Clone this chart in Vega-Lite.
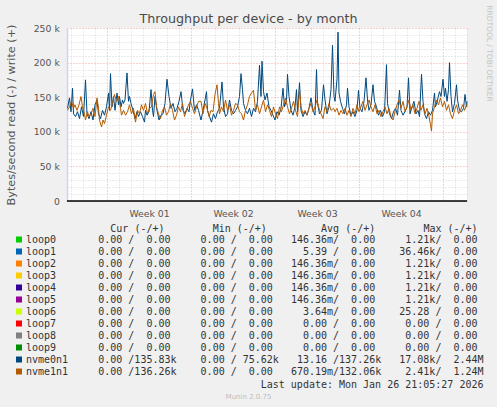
{
  "$schema": "https://vega.github.io/schema/vega-lite/v6.json",
  "autosize": {"type": "none"},
  "width": 400,
  "height": 173,
  "padding": {"left": 67, "top": 28, "right": 30, "bottom": 206},
  "background": "#f0f0f0",
  "config": {
    "view": {"fill": "#ffffff", "stroke": null},
    "font": "DejaVu Sans",
    "axis": {"labelFont": "DejaVu Sans", "titleFont": "DejaVu Sans", "titleFontWeight": "normal"}
  },
  "datasets": {
    "devices": [
      {"device": "loop0", "cur": "  0.00 /  0.00 ", "min": "  0.00 /  0.00 ", "avg": "146.36m/  0.00 ", "max": "  1.21k/  0.00 "},
      {"device": "loop1", "cur": "  0.00 /  0.00 ", "min": "  0.00 /  0.00 ", "avg": "  5.39 /  0.00 ", "max": " 36.46k/  0.00 "},
      {"device": "loop2", "cur": "  0.00 /  0.00 ", "min": "  0.00 /  0.00 ", "avg": "146.36m/  0.00 ", "max": "  1.21k/  0.00 "},
      {"device": "loop3", "cur": "  0.00 /  0.00 ", "min": "  0.00 /  0.00 ", "avg": "146.36m/  0.00 ", "max": "  1.21k/  0.00 "},
      {"device": "loop4", "cur": "  0.00 /  0.00 ", "min": "  0.00 /  0.00 ", "avg": "146.36m/  0.00 ", "max": "  1.21k/  0.00 "},
      {"device": "loop5", "cur": "  0.00 /  0.00 ", "min": "  0.00 /  0.00 ", "avg": "146.36m/  0.00 ", "max": "  1.21k/  0.00 "},
      {"device": "loop6", "cur": "  0.00 /  0.00 ", "min": "  0.00 /  0.00 ", "avg": "  3.64m/  0.00 ", "max": " 25.28 /  0.00 "},
      {"device": "loop7", "cur": "  0.00 /  0.00 ", "min": "  0.00 /  0.00 ", "avg": "  0.00 /  0.00 ", "max": "  0.00 /  0.00 "},
      {"device": "loop8", "cur": "  0.00 /  0.00 ", "min": "  0.00 /  0.00 ", "avg": "  0.00 /  0.00 ", "max": "  0.00 /  0.00 "},
      {"device": "loop9", "cur": "  0.00 /  0.00 ", "min": "  0.00 /  0.00 ", "avg": "  0.00 /  0.00 ", "max": "  0.00 /  0.00 "},
      {"device": "nvme0n1", "cur": "  0.00 /135.83k", "min": "  0.00 / 75.62k", "avg": " 13.16 /137.26k", "max": " 17.08k/  2.44M"},
      {"device": "nvme1n1", "cur": "  0.00 /136.26k", "min": "  0.00 /  0.00 ", "avg": "670.19m/132.06k", "max": "  2.41k/  1.24M"}
    ],
    "series": [
      {"device":"nvme0n1","hour":1,"value":134000},{"device":"nvme0n1","hour":5,"value":149000},{"device":"nvme0n1","hour":8,"value":129000},{"device":"nvme0n1","hour":11,"value":163000},{"device":"nvme0n1","hour":13,"value":126000},{"device":"nvme0n1","hour":17,"value":122000},{"device":"nvme0n1","hour":21,"value":129000},{"device":"nvme0n1","hour":25,"value":119000},{"device":"nvme0n1","hour":29,"value":136000},{"device":"nvme0n1","hour":33,"value":122000},
      {"device":"nvme0n1","hour":37,"value":175000},{"device":"nvme0n1","hour":40,"value":126000},{"device":"nvme0n1","hour":44,"value":119000},{"device":"nvme0n1","hour":48,"value":129000},{"device":"nvme0n1","hour":52,"value":117000},{"device":"nvme0n1","hour":56,"value":139000},{"device":"nvme0n1","hour":60,"value":146000},{"device":"nvme0n1","hour":63,"value":126000},{"device":"nvme0n1","hour":67,"value":119000},{"device":"nvme0n1","hour":71,"value":131000},
      {"device":"nvme0n1","hour":75,"value":124000},{"device":"nvme0n1","hour":79,"value":136000},{"device":"nvme0n1","hour":83,"value":156000},{"device":"nvme0n1","hour":85,"value":131000},{"device":"nvme0n1","hour":87,"value":184000},{"device":"nvme0n1","hour":90,"value":136000},{"device":"nvme0n1","hour":93,"value":151000},{"device":"nvme0n1","hour":96,"value":131000},{"device":"nvme0n1","hour":100,"value":156000},{"device":"nvme0n1","hour":103,"value":139000},
      {"device":"nvme0n1","hour":105,"value":151000},{"device":"nvme0n1","hour":108,"value":136000},{"device":"nvme0n1","hour":111,"value":146000},{"device":"nvme0n1","hour":113,"value":141000},{"device":"nvme0n1","hour":116,"value":146000},{"device":"nvme0n1","hour":120,"value":185000},{"device":"nvme0n1","hour":123,"value":144000},{"device":"nvme0n1","hour":125,"value":151000},{"device":"nvme0n1","hour":128,"value":141000},{"device":"nvme0n1","hour":132,"value":131000},
      {"device":"nvme0n1","hour":136,"value":119000},{"device":"nvme0n1","hour":140,"value":129000},{"device":"nvme0n1","hour":143,"value":122000},{"device":"nvme0n1","hour":147,"value":129000},{"device":"nvme0n1","hour":151,"value":122000},{"device":"nvme0n1","hour":155,"value":114000},{"device":"nvme0n1","hour":157,"value":131000},{"device":"nvme0n1","hour":160,"value":124000},{"device":"nvme0n1","hour":164,"value":129000},{"device":"nvme0n1","hour":168,"value":161000},
      {"device":"nvme0n1","hour":171,"value":131000},{"device":"nvme0n1","hour":173,"value":122000},{"device":"nvme0n1","hour":176,"value":151000},{"device":"nvme0n1","hour":180,"value":131000},{"device":"nvme0n1","hour":184,"value":117000},{"device":"nvme0n1","hour":188,"value":124000},{"device":"nvme0n1","hour":192,"value":126000},{"device":"nvme0n1","hour":196,"value":141000},{"device":"nvme0n1","hour":200,"value":176000},{"device":"nvme0n1","hour":204,"value":151000},
      {"device":"nvme0n1","hour":208,"value":134000},{"device":"nvme0n1","hour":212,"value":141000},{"device":"nvme0n1","hour":216,"value":129000},{"device":"nvme0n1","hour":220,"value":134000},{"device":"nvme0n1","hour":224,"value":144000},{"device":"nvme0n1","hour":228,"value":158000},{"device":"nvme0n1","hour":232,"value":131000},{"device":"nvme0n1","hour":236,"value":126000},{"device":"nvme0n1","hour":240,"value":134000},{"device":"nvme0n1","hour":244,"value":129000},
      {"device":"nvme0n1","hour":247,"value":146000},{"device":"nvme0n1","hour":251,"value":162000},{"device":"nvme0n1","hour":255,"value":131000},{"device":"nvme0n1","hour":259,"value":139000},{"device":"nvme0n1","hour":263,"value":131000},{"device":"nvme0n1","hour":268,"value":117000},{"device":"nvme0n1","hour":272,"value":131000},{"device":"nvme0n1","hour":276,"value":146000},{"device":"nvme0n1","hour":279,"value":158000},{"device":"nvme0n1","hour":281,"value":131000},
      {"device":"nvme0n1","hour":285,"value":122000},{"device":"nvme0n1","hour":289,"value":114000},{"device":"nvme0n1","hour":293,"value":126000},{"device":"nvme0n1","hour":297,"value":119000},{"device":"nvme0n1","hour":301,"value":129000},{"device":"nvme0n1","hour":305,"value":134000},{"device":"nvme0n1","hour":310,"value":172000},{"device":"nvme0n1","hour":313,"value":136000},{"device":"nvme0n1","hour":317,"value":122000},{"device":"nvme0n1","hour":321,"value":126000},
      {"device":"nvme0n1","hour":325,"value":146000},{"device":"nvme0n1","hour":329,"value":131000},{"device":"nvme0n1","hour":333,"value":126000},{"device":"nvme0n1","hour":337,"value":131000},{"device":"nvme0n1","hour":341,"value":136000},{"device":"nvme0n1","hour":345,"value":151000},{"device":"nvme0n1","hour":348,"value":184000},{"device":"nvme0n1","hour":351,"value":161000},{"device":"nvme0n1","hour":353,"value":141000},{"device":"nvme0n1","hour":357,"value":131000},
      {"device":"nvme0n1","hour":361,"value":126000},{"device":"nvme0n1","hour":365,"value":134000},{"device":"nvme0n1","hour":369,"value":122000},{"device":"nvme0n1","hour":373,"value":134000},{"device":"nvme0n1","hour":377,"value":129000},{"device":"nvme0n1","hour":381,"value":144000},{"device":"nvme0n1","hour":385,"value":196000},{"device":"nvme0n1","hour":388,"value":151000},{"device":"nvme0n1","hour":390,"value":202000},{"device":"nvme0n1","hour":393,"value":158000},
      {"device":"nvme0n1","hour":396,"value":146000},{"device":"nvme0n1","hour":400,"value":156000},{"device":"nvme0n1","hour":404,"value":136000},{"device":"nvme0n1","hour":408,"value":131000},{"device":"nvme0n1","hour":412,"value":124000},{"device":"nvme0n1","hour":416,"value":117000},{"device":"nvme0n1","hour":420,"value":129000},{"device":"nvme0n1","hour":424,"value":124000},{"device":"nvme0n1","hour":428,"value":134000},{"device":"nvme0n1","hour":432,"value":163000},
      {"device":"nvme0n1","hour":435,"value":136000},{"device":"nvme0n1","hour":439,"value":146000},{"device":"nvme0n1","hour":441,"value":183000},{"device":"nvme0n1","hour":444,"value":151000},{"device":"nvme0n1","hour":448,"value":131000},{"device":"nvme0n1","hour":452,"value":124000},{"device":"nvme0n1","hour":456,"value":136000},{"device":"nvme0n1","hour":459,"value":161000},{"device":"nvme0n1","hour":461,"value":129000},{"device":"nvme0n1","hour":465,"value":171000},
      {"device":"nvme0n1","hour":468,"value":131000},{"device":"nvme0n1","hour":472,"value":122000},{"device":"nvme0n1","hour":476,"value":129000},{"device":"nvme0n1","hour":480,"value":124000},{"device":"nvme0n1","hour":484,"value":134000},{"device":"nvme0n1","hour":488,"value":149000},{"device":"nvme0n1","hour":492,"value":131000},{"device":"nvme0n1","hour":496,"value":124000},{"device":"nvme0n1","hour":499,"value":190000},{"device":"nvme0n1","hour":501,"value":141000},
      {"device":"nvme0n1","hour":505,"value":126000},{"device":"nvme0n1","hour":509,"value":131000},{"device":"nvme0n1","hour":513,"value":168000},{"device":"nvme0n1","hour":516,"value":146000},{"device":"nvme0n1","hour":520,"value":126000},{"device":"nvme0n1","hour":524,"value":136000},{"device":"nvme0n1","hour":528,"value":161000},{"device":"nvme0n1","hour":531,"value":225000},{"device":"nvme0n1","hour":534,"value":151000},{"device":"nvme0n1","hour":536,"value":144000},
      {"device":"nvme0n1","hour":540,"value":176000},{"device":"nvme0n1","hour":542,"value":244000},{"device":"nvme0n1","hour":544,"value":156000},{"device":"nvme0n1","hour":547,"value":144000},{"device":"nvme0n1","hour":551,"value":134000},{"device":"nvme0n1","hour":555,"value":126000},{"device":"nvme0n1","hour":559,"value":139000},{"device":"nvme0n1","hour":561,"value":163000},{"device":"nvme0n1","hour":564,"value":136000},{"device":"nvme0n1","hour":568,"value":124000},
      {"device":"nvme0n1","hour":572,"value":129000},{"device":"nvme0n1","hour":576,"value":122000},{"device":"nvme0n1","hour":580,"value":131000},{"device":"nvme0n1","hour":583,"value":160000},{"device":"nvme0n1","hour":586,"value":134000},{"device":"nvme0n1","hour":590,"value":129000},{"device":"nvme0n1","hour":594,"value":144000},{"device":"nvme0n1","hour":598,"value":178000},{"device":"nvme0n1","hour":601,"value":146000},{"device":"nvme0n1","hour":604,"value":131000},
      {"device":"nvme0n1","hour":608,"value":139000},{"device":"nvme0n1","hour":612,"value":168000},{"device":"nvme0n1","hour":615,"value":144000},{"device":"nvme0n1","hour":619,"value":136000},{"device":"nvme0n1","hour":623,"value":124000},{"device":"nvme0n1","hour":627,"value":131000},{"device":"nvme0n1","hour":631,"value":122000},{"device":"nvme0n1","hour":635,"value":129000},{"device":"nvme0n1","hour":639,"value":197000},{"device":"nvme0n1","hour":641,"value":141000},
      {"device":"nvme0n1","hour":645,"value":126000},{"device":"nvme0n1","hour":649,"value":119000},{"device":"nvme0n1","hour":653,"value":129000},{"device":"nvme0n1","hour":657,"value":134000},{"device":"nvme0n1","hour":661,"value":124000},{"device":"nvme0n1","hour":665,"value":160000},{"device":"nvme0n1","hour":668,"value":131000},{"device":"nvme0n1","hour":672,"value":124000},{"device":"nvme0n1","hour":676,"value":129000},{"device":"nvme0n1","hour":680,"value":136000},
      {"device":"nvme0n1","hour":683,"value":178000},{"device":"nvme0n1","hour":686,"value":126000},{"device":"nvme0n1","hour":690,"value":136000},{"device":"nvme0n1","hour":694,"value":144000},{"device":"nvme0n1","hour":698,"value":126000},{"device":"nvme0n1","hour":702,"value":131000},{"device":"nvme0n1","hour":705,"value":122000},{"device":"nvme0n1","hour":709,"value":183000},{"device":"nvme0n1","hour":712,"value":144000},{"device":"nvme0n1","hour":715,"value":126000},
      {"device":"nvme0n1","hour":719,"value":119000},{"device":"nvme0n1","hour":723,"value":129000},{"device":"nvme0n1","hour":727,"value":124000},{"device":"nvme0n1","hour":731,"value":131000},{"device":"nvme0n1","hour":735,"value":156000},{"device":"nvme0n1","hour":737,"value":136000},{"device":"nvme0n1","hour":741,"value":146000},{"device":"nvme0n1","hour":745,"value":158000},{"device":"nvme0n1","hour":748,"value":151000},{"device":"nvme0n1","hour":752,"value":176000},
      {"device":"nvme0n1","hour":755,"value":151000},{"device":"nvme0n1","hour":757,"value":163000},{"device":"nvme0n1","hour":760,"value":144000},{"device":"nvme0n1","hour":763,"value":161000},{"device":"nvme0n1","hour":765,"value":200000},{"device":"nvme0n1","hour":768,"value":151000},{"device":"nvme0n1","hour":771,"value":129000},{"device":"nvme0n1","hour":775,"value":141000},{"device":"nvme0n1","hour":779,"value":168000},{"device":"nvme0n1","hour":781,"value":146000},
      {"device":"nvme0n1","hour":785,"value":131000},{"device":"nvme0n1","hour":789,"value":129000},{"device":"nvme0n1","hour":793,"value":134000},{"device":"nvme0n1","hour":796,"value":154000},{"device":"nvme0n1","hour":799,"value":136000},{"device":"nvme0n1","hour":800,"value":144000},
      {"device":"nvme1n1","hour":1,"value":131000},{"device":"nvme1n1","hour":5,"value":136000},{"device":"nvme1n1","hour":9,"value":144000},{"device":"nvme1n1","hour":13,"value":134000},{"device":"nvme1n1","hour":16,"value":139000},{"device":"nvme1n1","hour":20,"value":131000},{"device":"nvme1n1","hour":24,"value":139000},{"device":"nvme1n1","hour":28,"value":151000},{"device":"nvme1n1","hour":31,"value":136000},{"device":"nvme1n1","hour":35,"value":126000},
      {"device":"nvme1n1","hour":37,"value":117000},{"device":"nvme1n1","hour":41,"value":129000},{"device":"nvme1n1","hour":44,"value":122000},{"device":"nvme1n1","hour":48,"value":126000},{"device":"nvme1n1","hour":52,"value":134000},{"device":"nvme1n1","hour":56,"value":122000},{"device":"nvme1n1","hour":60,"value":149000},{"device":"nvme1n1","hour":63,"value":134000},{"device":"nvme1n1","hour":65,"value":117000},{"device":"nvme1n1","hour":69,"value":107000},
      {"device":"nvme1n1","hour":72,"value":117000},{"device":"nvme1n1","hour":75,"value":112000},{"device":"nvme1n1","hour":79,"value":124000},{"device":"nvme1n1","hour":83,"value":136000},{"device":"nvme1n1","hour":87,"value":131000},{"device":"nvme1n1","hour":91,"value":141000},{"device":"nvme1n1","hour":95,"value":154000},{"device":"nvme1n1","hour":99,"value":144000},{"device":"nvme1n1","hour":103,"value":151000},{"device":"nvme1n1","hour":107,"value":134000},
      {"device":"nvme1n1","hour":109,"value":124000},{"device":"nvme1n1","hour":113,"value":131000},{"device":"nvme1n1","hour":117,"value":124000},{"device":"nvme1n1","hour":121,"value":129000},{"device":"nvme1n1","hour":125,"value":139000},{"device":"nvme1n1","hour":129,"value":126000},{"device":"nvme1n1","hour":133,"value":134000},{"device":"nvme1n1","hour":137,"value":114000},{"device":"nvme1n1","hour":141,"value":131000},{"device":"nvme1n1","hour":145,"value":126000},
      {"device":"nvme1n1","hour":149,"value":139000},{"device":"nvme1n1","hour":153,"value":131000},{"device":"nvme1n1","hour":157,"value":141000},{"device":"nvme1n1","hour":161,"value":126000},{"device":"nvme1n1","hour":165,"value":134000},{"device":"nvme1n1","hour":169,"value":136000},{"device":"nvme1n1","hour":173,"value":154000},{"device":"nvme1n1","hour":176,"value":158000},{"device":"nvme1n1","hour":179,"value":136000},{"device":"nvme1n1","hour":183,"value":126000},
      {"device":"nvme1n1","hour":187,"value":119000},{"device":"nvme1n1","hour":191,"value":131000},{"device":"nvme1n1","hour":195,"value":136000},{"device":"nvme1n1","hour":199,"value":124000},{"device":"nvme1n1","hour":203,"value":129000},{"device":"nvme1n1","hour":207,"value":141000},{"device":"nvme1n1","hour":211,"value":131000},{"device":"nvme1n1","hour":215,"value":117000},{"device":"nvme1n1","hour":219,"value":124000},{"device":"nvme1n1","hour":223,"value":136000},
      {"device":"nvme1n1","hour":227,"value":129000},{"device":"nvme1n1","hour":231,"value":141000},{"device":"nvme1n1","hour":235,"value":122000},{"device":"nvme1n1","hour":239,"value":131000},{"device":"nvme1n1","hour":243,"value":139000},{"device":"nvme1n1","hour":247,"value":144000},{"device":"nvme1n1","hour":251,"value":134000},{"device":"nvme1n1","hour":255,"value":126000},{"device":"nvme1n1","hour":259,"value":136000},{"device":"nvme1n1","hour":263,"value":144000},
      {"device":"nvme1n1","hour":268,"value":144000},{"device":"nvme1n1","hour":272,"value":126000},{"device":"nvme1n1","hour":276,"value":141000},{"device":"nvme1n1","hour":280,"value":134000},{"device":"nvme1n1","hour":284,"value":122000},{"device":"nvme1n1","hour":288,"value":131000},{"device":"nvme1n1","hour":292,"value":129000},{"device":"nvme1n1","hour":296,"value":154000},{"device":"nvme1n1","hour":300,"value":168000},{"device":"nvme1n1","hour":303,"value":141000},
      {"device":"nvme1n1","hour":305,"value":126000},{"device":"nvme1n1","hour":309,"value":136000},{"device":"nvme1n1","hour":313,"value":129000},{"device":"nvme1n1","hour":317,"value":146000},{"device":"nvme1n1","hour":321,"value":131000},{"device":"nvme1n1","hour":325,"value":139000},{"device":"nvme1n1","hour":329,"value":124000},{"device":"nvme1n1","hour":333,"value":131000},{"device":"nvme1n1","hour":337,"value":141000},{"device":"nvme1n1","hour":341,"value":139000},
      {"device":"nvme1n1","hour":345,"value":129000},{"device":"nvme1n1","hour":349,"value":126000},{"device":"nvme1n1","hour":353,"value":117000},{"device":"nvme1n1","hour":357,"value":131000},{"device":"nvme1n1","hour":361,"value":139000},{"device":"nvme1n1","hour":365,"value":151000},{"device":"nvme1n1","hour":369,"value":156000},{"device":"nvme1n1","hour":373,"value":160000},{"device":"nvme1n1","hour":377,"value":131000},{"device":"nvme1n1","hour":381,"value":139000},
      {"device":"nvme1n1","hour":385,"value":126000},{"device":"nvme1n1","hour":389,"value":136000},{"device":"nvme1n1","hour":393,"value":146000},{"device":"nvme1n1","hour":397,"value":129000},{"device":"nvme1n1","hour":401,"value":139000},{"device":"nvme1n1","hour":405,"value":131000},{"device":"nvme1n1","hour":409,"value":122000},{"device":"nvme1n1","hour":413,"value":136000},{"device":"nvme1n1","hour":417,"value":126000},{"device":"nvme1n1","hour":421,"value":119000},
      {"device":"nvme1n1","hour":425,"value":136000},{"device":"nvme1n1","hour":429,"value":129000},{"device":"nvme1n1","hour":433,"value":139000},{"device":"nvme1n1","hour":437,"value":149000},{"device":"nvme1n1","hour":441,"value":136000},{"device":"nvme1n1","hour":445,"value":126000},{"device":"nvme1n1","hour":449,"value":134000},{"device":"nvme1n1","hour":453,"value":144000},{"device":"nvme1n1","hour":457,"value":131000},{"device":"nvme1n1","hour":461,"value":122000},
      {"device":"nvme1n1","hour":465,"value":161000},{"device":"nvme1n1","hour":468,"value":136000},{"device":"nvme1n1","hour":472,"value":126000},{"device":"nvme1n1","hour":476,"value":131000},{"device":"nvme1n1","hour":480,"value":124000},{"device":"nvme1n1","hour":484,"value":134000},{"device":"nvme1n1","hour":488,"value":141000},{"device":"nvme1n1","hour":492,"value":129000},{"device":"nvme1n1","hour":496,"value":136000},{"device":"nvme1n1","hour":500,"value":146000},
      {"device":"nvme1n1","hour":504,"value":134000},{"device":"nvme1n1","hour":508,"value":126000},{"device":"nvme1n1","hour":512,"value":119000},{"device":"nvme1n1","hour":516,"value":136000},{"device":"nvme1n1","hour":520,"value":129000},{"device":"nvme1n1","hour":524,"value":141000},{"device":"nvme1n1","hour":528,"value":131000},{"device":"nvme1n1","hour":533,"value":134000},{"device":"nvme1n1","hour":536,"value":129000},{"device":"nvme1n1","hour":540,"value":134000},
      {"device":"nvme1n1","hour":544,"value":124000},{"device":"nvme1n1","hour":548,"value":131000},{"device":"nvme1n1","hour":552,"value":126000},{"device":"nvme1n1","hour":556,"value":134000},{"device":"nvme1n1","hour":560,"value":124000},{"device":"nvme1n1","hour":564,"value":131000},{"device":"nvme1n1","hour":568,"value":122000},{"device":"nvme1n1","hour":572,"value":134000},{"device":"nvme1n1","hour":576,"value":126000},{"device":"nvme1n1","hour":580,"value":139000},
      {"device":"nvme1n1","hour":584,"value":129000},{"device":"nvme1n1","hour":588,"value":136000},{"device":"nvme1n1","hour":592,"value":144000},{"device":"nvme1n1","hour":596,"value":131000},{"device":"nvme1n1","hour":600,"value":139000},{"device":"nvme1n1","hour":604,"value":146000},{"device":"nvme1n1","hour":608,"value":136000},{"device":"nvme1n1","hour":612,"value":129000},{"device":"nvme1n1","hour":616,"value":139000},{"device":"nvme1n1","hour":620,"value":126000},
      {"device":"nvme1n1","hour":624,"value":131000},{"device":"nvme1n1","hour":628,"value":122000},{"device":"nvme1n1","hour":632,"value":129000},{"device":"nvme1n1","hour":636,"value":136000},{"device":"nvme1n1","hour":640,"value":126000},{"device":"nvme1n1","hour":644,"value":134000},{"device":"nvme1n1","hour":648,"value":122000},{"device":"nvme1n1","hour":652,"value":117000},{"device":"nvme1n1","hour":656,"value":129000},{"device":"nvme1n1","hour":660,"value":139000},
      {"device":"nvme1n1","hour":664,"value":146000},{"device":"nvme1n1","hour":668,"value":134000},{"device":"nvme1n1","hour":672,"value":144000},{"device":"nvme1n1","hour":676,"value":129000},{"device":"nvme1n1","hour":680,"value":136000},{"device":"nvme1n1","hour":684,"value":146000},{"device":"nvme1n1","hour":688,"value":131000},{"device":"nvme1n1","hour":692,"value":139000},{"device":"nvme1n1","hour":696,"value":126000},{"device":"nvme1n1","hour":700,"value":134000},
      {"device":"nvme1n1","hour":704,"value":144000},{"device":"nvme1n1","hour":708,"value":131000},{"device":"nvme1n1","hour":712,"value":139000},{"device":"nvme1n1","hour":716,"value":126000},{"device":"nvme1n1","hour":720,"value":134000},{"device":"nvme1n1","hour":724,"value":122000},{"device":"nvme1n1","hour":727,"value":110000},{"device":"nvme1n1","hour":729,"value":101000},{"device":"nvme1n1","hour":731,"value":126000},{"device":"nvme1n1","hour":735,"value":136000},
      {"device":"nvme1n1","hour":739,"value":146000},{"device":"nvme1n1","hour":743,"value":139000},{"device":"nvme1n1","hour":747,"value":149000},{"device":"nvme1n1","hour":751,"value":136000},{"device":"nvme1n1","hour":755,"value":144000},{"device":"nvme1n1","hour":759,"value":131000},{"device":"nvme1n1","hour":763,"value":139000},{"device":"nvme1n1","hour":767,"value":126000},{"device":"nvme1n1","hour":771,"value":119000},{"device":"nvme1n1","hour":775,"value":131000},
      {"device":"nvme1n1","hour":779,"value":139000},{"device":"nvme1n1","hour":783,"value":126000},{"device":"nvme1n1","hour":787,"value":131000},{"device":"nvme1n1","hour":791,"value":139000},{"device":"nvme1n1","hour":795,"value":131000},{"device":"nvme1n1","hour":799,"value":139000},{"device":"nvme1n1","hour":800,"value":136000}
    ]
  },
  "layer": [
    {
      "data": {"name": "devices"},
      "transform": [
        {"calculate": "replace(pad(datum.device, 10) + datum.cur + '  ' + datum.min + '  ' + datum.avg + '  ' + datum.max, regexp(' ', 'g'), '\u00a0')", "as": "entry"}
      ],
      "mark": {"type": "square", "size": 0, "opacity": 0},
      "encoding": {
        "x": {
          "datum": 0, "type": "quantitative",
          "scale": {"domain": [0, 800], "nice": false, "zero": false},
          "axis": {
            "orient": "bottom",
            "values": [8, 32, 56, 104, 128, 152, 176, 200, 224, 272, 296, 320, 344, 368, 392, 440, 464, 488, 512, 536, 560, 608, 632, 656, 680, 704, 728, 776, 800],
            "grid": true, "gridColor": "#d4d4d4", "gridDash": [1, 2], "gridWidth": 1,
            "labels": false, "ticks": false, "domain": false,
            "title": "Last update: Mon Jan 26 21:05:27 2026",
            "titleFont": "DejaVu Sans Mono", "titleFontSize": 10, "titleColor": "#333333",
            "titleAlign": "right", "titleBaseline": "alphabetic", "titleX": 416, "titleY": 186
          }
        },
        "y": {
          "datum": 0, "type": "quantitative",
          "scale": {"domain": [0, 250000], "nice": false},
          "axis": {
            "orient": "left",
            "values": [10000, 20000, 30000, 40000, 60000, 70000, 80000, 90000, 110000, 120000, 130000, 140000, 160000, 170000, 180000, 190000, 210000, 220000, 230000, 240000],
            "grid": true, "gridColor": "#d4d4d4", "gridDash": [1, 2], "gridWidth": 1,
            "labels": false, "ticks": false, "domain": false,
            "title": "RRDTOOL / TOBI OETIKER",
            "titleFontSize": 7.5, "titleColor": "#c4c4c4", "titleAngle": 90,
            "titleAlign": "center", "titleBaseline": "middle", "titleX": 421.5, "titleY": 25
          }
        },
        "color": {
          "field": "entry", "type": "nominal", "sort": null,
          "scale": {"range": ["#00cc00", "#0066b3", "#ff8000", "#ffcc00", "#330099", "#990099", "#ccff00", "#ff0000", "#808080", "#008f00", "#00487d", "#b35a00"]},
          "legend": {
            "orient": "none", "legendX": -53, "legendY": 195.5, "direction": "vertical", "padding": 0,
            "title": "\u200b\u00a0\u00a0\u00a0\u00a0\u00a0\u00a0\u00a0\u00a0\u00a0\u00a0\u00a0\u00a0\u00a0\u00a0\u00a0\u00a0Cur (-/+)\u00a0\u00a0\u00a0\u00a0\u00a0\u00a0\u00a0\u00a0Min (-/+)\u00a0\u00a0\u00a0\u00a0\u00a0\u00a0\u00a0\u00a0\u00a0Avg (-/+)\u00a0\u00a0\u00a0\u00a0\u00a0\u00a0\u00a0\u00a0Max (-/+)",
            "titleFont": "DejaVu Sans Mono", "titleFontSize": 10, "titleFontWeight": "normal", "titleColor": "#333333",
            "titleLimit": 1000, "titlePadding": 1, "titleAnchor": "start",
            "labelFont": "DejaVu Sans Mono", "labelFontSize": 10, "labelColor": "#333333",
            "labelLimit": 1000, "labelOffset": 2, "rowPadding": 2,
            "symbolType": "square", "symbolSize": 36, "symbolStrokeWidth": 0, "symbolOpacity": 1
          }
        }
      }
    },
    {
      "data": {"name": "series"},
      "mark": {"type": "line", "strokeWidth": 1},
      "encoding": {
        "x": {
          "field": "hour", "type": "quantitative",
          "scale": {"domain": [0, 800], "nice": false, "zero": false},
          "axis": {
            "orient": "bottom",
            "values": [80, 248, 416, 584, 752],
            "grid": true, "gridColor": "#eea0a0", "gridDash": [1, 2], "gridWidth": 1,
            "labels": false, "ticks": false, "domain": false,
            "title": "Throughput per device - by month",
            "titleFontSize": 12.7, "titleColor": "#4a4a4a",
            "titleAlign": "center", "titleBaseline": "alphabetic", "titleX": 181, "titleY": -178.3
          }
        },
        "y": {
          "field": "value", "type": "quantitative",
          "scale": {"domain": [0, 250000], "nice": false},
          "axis": {
            "orient": "left",
            "values": [0, 50000, 100000, 150000, 200000, 250000],
            "grid": true, "gridColor": "#eea0a0", "gridDash": [1, 2], "gridWidth": 1,
            "ticks": false, "domain": true, "domainColor": "#cfd3f5", "domainWidth": 1.5,
            "labelExpr": "datum.value == 0 ? '0\u00a0\u00a0' : format(datum.value / 1000, 'd') + ' k'",
            "labelFontSize": 9.3, "labelColor": "#555555", "labelPadding": 7.7,
            "labelAlign": "right", "labelBaseline": "middle",
            "title": "Bytes/second read (-) / write (+)",
            "titleFontSize": 11.2, "titleColor": "#555555", "titleAngle": -90,
            "titleAlign": "center", "titleBaseline": "middle", "titleX": -56, "titleY": 86.5
          }
        },
        "color": {
          "field": "device", "type": "nominal",
          "scale": {"domain": ["nvme0n1", "nvme1n1"], "range": ["#00487d", "#b35a00"]},
          "legend": null
        }
      }
    },
    {
      "data": {"values": [{"value": 0}]},
      "mark": {"type": "rule", "color": "#000000", "strokeWidth": 1.5},
      "encoding": {
        "x": {
          "datum": 0, "type": "quantitative",
          "scale": {"domain": [0, 800], "nice": false, "zero": false},
          "axis": {
            "orient": "bottom",
            "values": [164, 332, 500, 668],
            "labelExpr": "'Week 0' + format((datum.value - 164) / 168 + 1, 'd')",
            "grid": false, "ticks": false, "domain": false,
            "labelFontSize": 9.3, "labelColor": "#555555", "labelBaseline": "alphabetic",
            "labelPadding": 15, "labelFlush": false, "labelOverlap": false,
            "title": "Munin 2.0.75",
            "titleFontSize": 7, "titleColor": "#bdbdbd",
            "titleAlign": "center", "titleBaseline": "alphabetic", "titleX": 181, "titleY": 197.5
          }
        },
        "x2": {"datum": 800},
        "y": {"field": "value", "type": "quantitative", "axis": null}
      }
    }
  ],
  "resolve": {
    "axis": {"x": "independent", "y": "independent"},
    "scale": {"color": "independent"}
  }
}
